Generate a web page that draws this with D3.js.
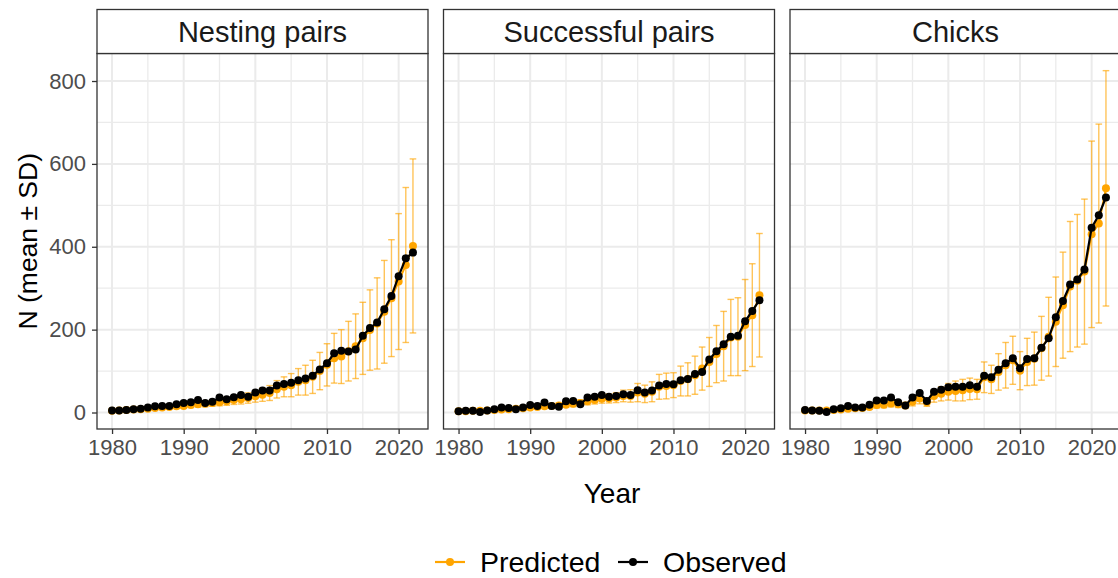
<!DOCTYPE html>
<html>
<head>
<meta charset="utf-8">
<script src="https://cdn.jsdelivr.net/npm/d3@7"></script>
<style>
  html, body { margin: 0; padding: 0; background: #fff; }
  svg { display: block; font-family: "Liberation Sans", Arial, sans-serif; }
</style>
</head>
<body>
<svg id="chart" width="1118" height="578"></svg>
<script>
// Breeding colony counts per year, observed and model-predicted (mean ± SD)
const years = [1980, 1981, 1982, 1983, 1984, 1985, 1986, 1987, 1988, 1989,
  1990, 1991, 1992, 1993, 1994, 1995, 1996, 1997, 1998, 1999,
  2000, 2001, 2002, 2003, 2004, 2005, 2006, 2007, 2008, 2009,
  2010, 2011, 2012, 2013, 2014, 2015, 2016, 2017, 2018, 2019,
  2020, 2021, 2022];

const panelNames = ["Nesting pairs", "Successful pairs", "Chicks"];

const nestingObserved = [5, 5, 6, 8, 9, 12, 15, 16, 16, 20,
  23, 25, 30, 23, 26, 36, 32, 37, 42, 38,
  48, 53, 53, 65, 69, 72, 78, 82, 89, 104,
  119, 143, 149, 147, 152, 185, 204, 217, 249, 281,
  329, 372, 386];
const nestingPredicted = [4, 5, 6, 7, 8, 9, 11, 12, 13, 15,
  16, 18, 20, 21, 23, 25, 27, 30, 32, 35,
  39, 43, 47, 56, 62, 66, 74, 78, 86, 100,
  115, 131, 135, 148, 160, 179, 199, 215, 243, 276,
  316, 356, 402];
const nestingSD = [1.5, 1.8, 2, 2.3, 2.6, 3, 3.5, 4, 4.4, 5,
  5.5, 6, 6.8, 7.2, 8, 8.8, 9.6, 10.5, 11.5, 12.5,
  14, 16, 18, 21, 24, 28, 32, 36, 40, 45,
  51, 60, 65, 72, 78, 87, 97, 110, 124, 141,
  164, 187, 210];

const successObserved = [3, 4, 4, 1, 5, 8, 12, 11, 8, 12,
  18, 16, 24, 16, 14, 27, 28, 20, 36, 38,
  42, 38, 40, 44, 42, 54, 48, 53, 65, 69,
  68, 78, 81, 93, 98, 128, 148, 165, 183, 185,
  220, 245, 271];
const successPredicted = [3, 3, 4, 4, 5, 6, 7, 8, 9, 10,
  12, 13, 15, 16, 17, 19, 21, 23, 27, 30,
  33, 34, 36, 40, 40, 48, 45, 50, 62, 64,
  66, 76, 80, 90, 106, 122, 141, 160, 181, 183,
  211, 235, 283];
const successSD = [1, 1.2, 1.5, 1.6, 1.8, 2.2, 2.5, 2.8, 3, 3.4,
  4, 4.3, 5, 5.3, 5.6, 6.3, 7, 7.5, 8.5, 9.5,
  10.5, 11, 12, 14, 15, 22, 21, 24, 30, 31,
  30, 36, 40, 46, 52, 59, 69, 84, 92, 94,
  110, 124, 149];

const chicksObserved = [6, 5, 4, 1, 8, 10, 16, 12, 12, 19,
  29, 29, 36, 25, 17, 36, 47, 28, 50, 55,
  61, 62, 62, 66, 62, 89, 85, 103, 119, 131,
  107, 129, 131, 156, 179, 230, 269, 309, 321, 345,
  446, 476, 519];
const chicksPredicted = [5, 5, 5, 5, 6, 7, 9, 10, 11, 13,
  18, 19, 22, 20, 17, 26, 34, 25, 40, 45,
  50, 52, 54, 57, 56, 85, 80, 98, 114, 126,
  101, 122, 130, 155, 183, 219, 259, 304, 318, 340,
  430, 456, 541];
const chicksSD = [2, 2, 2, 2, 2.5, 3, 4, 4, 4.5, 5,
  7, 7.5, 8.5, 8, 7, 10, 13, 10, 15, 17,
  20, 24, 26, 26, 24, 37, 34, 44, 55, 58,
  46, 57, 64, 77, 95, 108, 128, 157, 160, 175,
  225, 240, 284];

const xTicks = [1980, 1990, 2000, 2010, 2020];
const xMinor = [1985, 1995, 2005, 2015];
const yTicks = [0, 200, 400, 600, 800];
const yMinor = [100, 300, 500, 700];
const legendLabels = ["Predicted", "Observed"];

const observedSeries = [nestingObserved, successObserved, chicksObserved];
const predictedSeries = [nestingPredicted, successPredicted, chicksPredicted];
const sdSeries = [nestingSD, successSD, chicksSD];

// ---- layout ----
const colPred = "#FFA500";
const colObs = "#000000";
const frame = "#333333";
const gridCol = "#EBEBEB";
const tickText = "#4D4D4D";

const panelW = 331;
const panelLefts = [97, 443.5, 790];
const stripTop = 9.5, stripBottom = 53.5, plotBottom = 429;

const svg = d3.select("#chart");

const x = d3.scaleLinear().domain([1977.9, 2024.1]).range([0, panelW]);
const y = d3.scaleLinear().domain([-39.8, 866.4]).range([plotBottom, stripBottom]);

panelNames.forEach((name, i) => {
  const g = svg.append("g").attr("transform", `translate(${panelLefts[i]},0)`);
  const rows = years.map((yr, k) => ({
    year: yr,
    obs: observedSeries[i][k],
    pred: predictedSeries[i][k],
    sd: sdSeries[i][k]
  }));

  // panel background and grid
  g.append("rect").attr("x", 0).attr("y", stripBottom)
    .attr("width", panelW).attr("height", plotBottom - stripBottom).attr("fill", "#fff");

  g.selectAll("line.ymin").data(yMinor).join("line")
    .attr("x1", 0).attr("x2", panelW)
    .attr("y1", d => y(d)).attr("y2", d => y(d))
    .attr("stroke", gridCol).attr("stroke-width", 1.3);
  g.selectAll("line.xmin").data(xMinor).join("line")
    .attr("y1", stripBottom).attr("y2", plotBottom)
    .attr("x1", d => x(d)).attr("x2", d => x(d))
    .attr("stroke", gridCol).attr("stroke-width", 1.3);
  g.selectAll("line.ymaj").data(yTicks).join("line")
    .attr("x1", 0).attr("x2", panelW)
    .attr("y1", d => y(d)).attr("y2", d => y(d))
    .attr("stroke", gridCol).attr("stroke-width", 2);
  g.selectAll("line.xmaj").data(xTicks).join("line")
    .attr("y1", stripBottom).attr("y2", plotBottom)
    .attr("x1", d => x(d)).attr("x2", d => x(d))
    .attr("stroke", gridCol).attr("stroke-width", 2);

  // predicted: error bars, line, points
  const capHalf = 3.3;
  const eb = g.append("g").attr("stroke", colPred).attr("stroke-opacity", 0.65).attr("stroke-width", 1.4);
  eb.selectAll("line.v").data(rows).join("line")
    .attr("x1", d => x(d.year)).attr("x2", d => x(d.year))
    .attr("y1", d => y(d.pred - d.sd)).attr("y2", d => y(d.pred + d.sd));
  eb.selectAll("line.t").data(rows).join("line")
    .attr("x1", d => x(d.year) - capHalf).attr("x2", d => x(d.year) + capHalf)
    .attr("y1", d => y(d.pred + d.sd)).attr("y2", d => y(d.pred + d.sd));
  eb.selectAll("line.b").data(rows).join("line")
    .attr("x1", d => x(d.year) - capHalf).attr("x2", d => x(d.year) + capHalf)
    .attr("y1", d => y(d.pred - d.sd)).attr("y2", d => y(d.pred - d.sd));

  const linePred = d3.line().x(d => x(d.year)).y(d => y(d.pred));
  g.append("path").datum(rows).attr("d", linePred)
    .attr("fill", "none").attr("stroke", colPred).attr("stroke-width", 2);
  g.selectAll("circle.p").data(rows).join("circle")
    .attr("cx", d => x(d.year)).attr("cy", d => y(d.pred)).attr("r", 4)
    .attr("fill", colPred);

  // observed: line and points on top
  const lineObs = d3.line().x(d => x(d.year)).y(d => y(d.obs));
  g.append("path").datum(rows).attr("d", lineObs)
    .attr("fill", "none").attr("stroke", colObs).attr("stroke-width", 2.2);
  g.selectAll("circle.o").data(rows).join("circle")
    .attr("cx", d => x(d.year)).attr("cy", d => y(d.obs)).attr("r", 4)
    .attr("fill", colObs);

  // panel border
  g.append("rect").attr("x", 0).attr("y", stripBottom)
    .attr("width", panelW).attr("height", plotBottom - stripBottom)
    .attr("fill", "none").attr("stroke", frame).attr("stroke-width", 1.3);

  // strip
  g.append("rect").attr("x", 0).attr("y", stripTop)
    .attr("width", panelW).attr("height", stripBottom - stripTop)
    .attr("fill", "#fff").attr("stroke", frame).attr("stroke-width", 1.3);
  g.append("text").attr("x", panelW / 2).attr("y", (stripTop + stripBottom) / 2)
    .attr("dy", "0.35em").attr("text-anchor", "middle")
    .attr("font-size", 29).attr("fill", "#1A1A1A").text(name);

  // x axis
  const xa = g.append("g").attr("transform", `translate(0,${plotBottom})`)
    .call(d3.axisBottom(x).tickValues(xTicks).tickFormat(d3.format("d")).tickSize(5).tickPadding(5));
  xa.select(".domain").remove();
  xa.selectAll(".tick line").attr("stroke", frame).attr("stroke-width", 1.3);
  xa.selectAll(".tick text").attr("font-size", 22).attr("fill", tickText)
    .attr("font-family", "Liberation Sans, Arial, sans-serif");

  if (i === 0) {
    const ya = g.append("g")
      .call(d3.axisLeft(y).tickValues(yTicks).tickSize(5).tickPadding(6));
    ya.select(".domain").remove();
    ya.selectAll(".tick line").attr("stroke", frame).attr("stroke-width", 1.3);
    ya.selectAll(".tick text").attr("font-size", 22).attr("fill", tickText)
      .attr("font-family", "Liberation Sans, Arial, sans-serif");
  }
});

// axis titles
svg.append("text").attr("x", 612).attr("y", 493).attr("dy", "0.35em")
  .attr("text-anchor", "middle").attr("font-size", 28).attr("fill", "#000").text("Year");
svg.append("text").attr("transform", `translate(28,${(stripBottom + plotBottom) / 2}) rotate(-90)`)
  .attr("dy", "0.35em").attr("text-anchor", "middle").attr("font-size", 26.5).attr("fill", "#000")
  .text("N (mean ± SD)");

// legend
const legendY = 562;
const legendItems = [
  { label: legendLabels[0], color: colPred, x0: 435 },
  { label: legendLabels[1], color: colObs, x0: 618 }
];
legendItems.forEach(it => {
  svg.append("line").attr("x1", it.x0).attr("x2", it.x0 + 30)
    .attr("y1", legendY).attr("y2", legendY)
    .attr("stroke", it.color).attr("stroke-width", 2.2);
  svg.append("circle").attr("cx", it.x0 + 15).attr("cy", legendY).attr("r", 4).attr("fill", it.color);
  svg.append("text").attr("x", it.x0 + 45).attr("y", legendY).attr("dy", "0.35em")
    .attr("font-size", 28.5).attr("fill", "#000").text(it.label);
});
</script>
</body>
</html>
